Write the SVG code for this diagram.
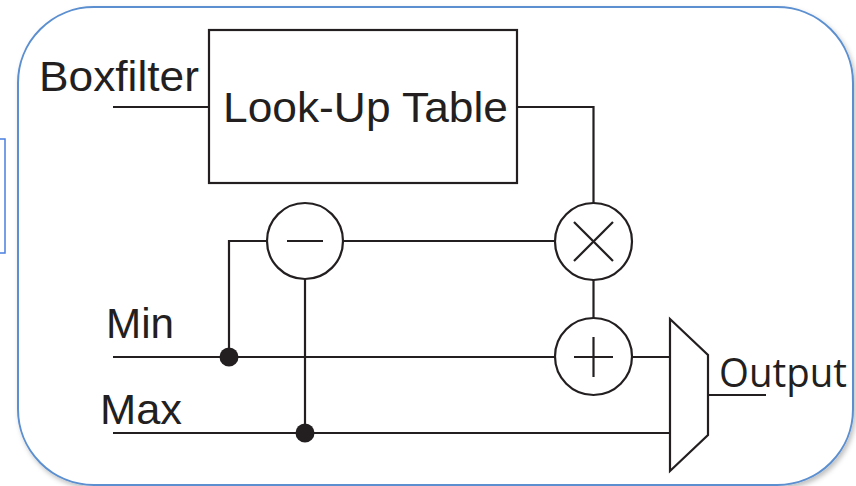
<svg xmlns="http://www.w3.org/2000/svg" width="856" height="486" viewBox="0 0 856 486">
<defs>
<filter id="sh" x="-5%" y="-5%" width="110%" height="110%">
<feDropShadow dx="2" dy="3" stdDeviation="2.5" flood-color="#000" flood-opacity="0.25"/>
</filter>
</defs>
<style>
.w{fill:none;stroke:#231f20;stroke-width:2.2}
.n{fill:#fff;stroke:#231f20;stroke-width:2.2}
.t{font-family:"Liberation Sans",Arial,sans-serif;font-size:43px;fill:#231f20}
.d{fill:#231f20}
</style>
<rect x="0" y="0" width="856" height="486" fill="#fff"/>
<rect x="-2" y="139" width="7" height="114" fill="none" stroke="#4a7fe0" stroke-width="1.5"/>
<rect id="frame" x="18" y="7" width="835" height="478" rx="76" ry="76" fill="#fff" stroke="#5b8fd0" stroke-width="2" filter="url(#sh)"/>
<g id="connectors">
<polyline class="w" points="113,107 209,107"/>
<polyline class="w" points="517,107 593.5,107 593.5,203"/>
<polyline class="w" points="593.5,280 593.5,318"/>
<polyline class="w" points="267,241 229,241 229,357"/>
<polyline class="w" points="343,241 555,241"/>
<polyline class="w" points="305,279 305,433"/>
<polyline class="w" points="113,357 555,357"/>
<polyline class="w" points="632,357 670,357"/>
<polyline class="w" points="113,433 670,433"/>
<polyline class="w" points="708,395 766,395"/>
<circle class="d" cx="229" cy="357" r="9.5"/>
<circle class="d" cx="305" cy="433" r="9.5"/>
</g>
<g id="lut">
<rect class="n" x="209" y="30" width="308" height="153"/>
<text class="t" x="223" y="122" textLength="285" lengthAdjust="spacingAndGlyphs">Look-Up Table</text>
</g>
<g id="sub">
<circle class="n" cx="305" cy="241" r="38"/>
<line class="w" x1="287" y1="241" x2="323" y2="241"/>
</g>
<g id="mul">
<circle class="n" cx="593.5" cy="241.5" r="38.5"/>
<line class="w" x1="574" y1="222" x2="613" y2="261"/>
<line class="w" x1="613" y1="222" x2="574" y2="261"/>
</g>
<g id="add">
<circle class="n" cx="593.5" cy="356.5" r="38.5"/>
<line class="w" x1="574" y1="357" x2="613" y2="357"/>
<line class="w" x1="593.5" y1="337" x2="593.5" y2="377"/>
</g>
<g id="mux">
<polygon class="n" points="670,319 708,355 708,435 670,471"/>
</g>
<g id="labels">
<text class="t" x="39" y="91" textLength="160" lengthAdjust="spacingAndGlyphs">Boxfilter</text>
<text class="t" x="106" y="338" textLength="68" lengthAdjust="spacingAndGlyphs">Min</text>
<text class="t" x="100" y="424" textLength="82" lengthAdjust="spacingAndGlyphs">Max</text>
<text x="719" y="387" font-family="'Open Sans',sans-serif" font-size="41" fill="#231f20" textLength="128" lengthAdjust="spacingAndGlyphs">Output</text>
</g>
</svg>
